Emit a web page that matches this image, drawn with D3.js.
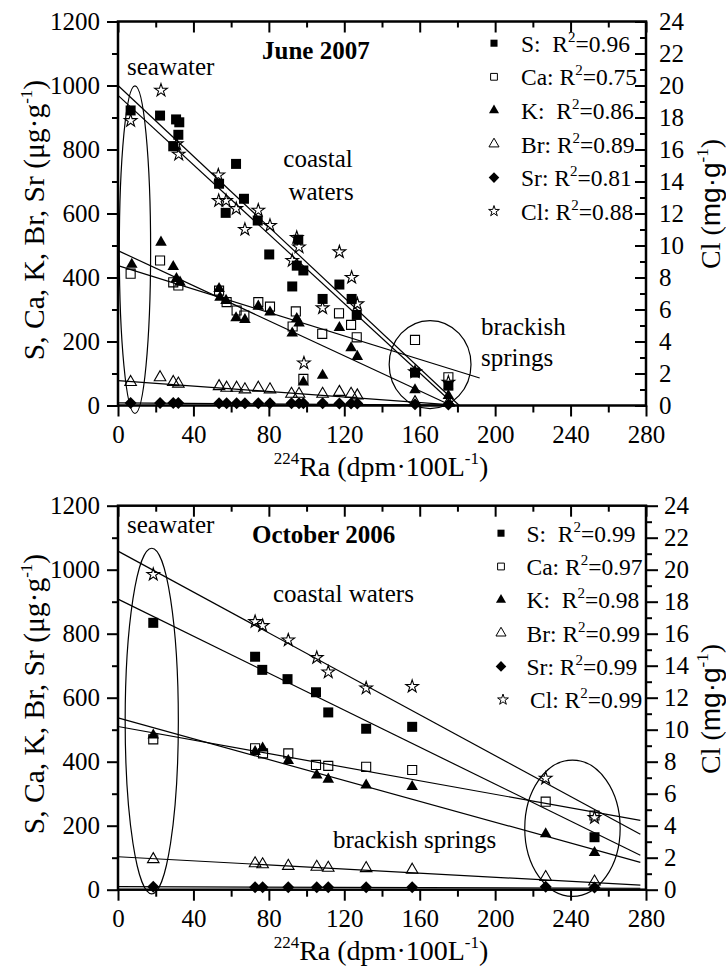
<!DOCTYPE html>
<html>
<head>
<meta charset="utf-8">
<script src="https://cdn.jsdelivr.net/npm/d3@7"></script>
<style>
  body { margin: 0; background: #fff; }
  svg text { font-family: "Liberation Serif", "Times New Roman", serif; fill: #000; }
</style>
</head>
<body>
<div class="canvas"></div>
<script>
// Data: [224Ra (dpm/100L), concentration]; S..Sr in ug/g, Cl in mg/g
const series_names = ["S", "Ca", "K", "Br", "Sr", "Cl"];

// June 2007
const jun_S = [[6.7,922],[22.3,906],[29.3,810],[30.8,894],[32,846],[32.5,885],[53.6,693],[57.1,602],[62.6,755],[66.8,646],[74.1,578],[80.2,472],[92.4,372],[94.8,437],[95.6,518],[98.3,422],[108.5,333],[117.4,378],[123.9,333],[126.6,283],[157.5,103],[175.2,62]];
const jun_Ca = [[6.7,412],[22.3,453],[29.3,385],[32,375],[53.6,359],[57.6,323],[62.9,297],[67,281],[74.4,323],[80.6,309],[92.6,247],[94.3,294],[98.3,83],[108.3,224],[117.2,288],[123.6,252],[126.6,213],[157.5,205],[175.2,88]];
const jun_K = [[7.3,441],[22.8,510],[29.3,434],[31,396],[32.9,385],[53.6,365],[54.1,338],[57.3,328],[62.6,274],[67.3,268],[74.4,310],[80.6,292],[92.4,226],[94.8,271],[96,257],[98.3,73],[108.5,94],[117.4,243],[123.6,180],[126.9,153],[157.5,49],[175.2,31]];
const jun_Br = [[6.7,73],[22.3,88],[29.3,73],[32,68],[53.6,60],[57.6,55],[62.9,55],[67.3,50],[74.4,55],[80.6,50],[92,36],[96,36],[108.5,36],[117.4,42],[123.6,36],[126.9,31],[157.5,10],[175.2,8]];
const jun_Sr = [[6.7,8],[22.3,8],[29.3,8],[32,8],[53.6,7],[57.6,7],[62.9,7],[67.3,7],[74.4,7],[80.6,7],[92,7],[96,7],[98.3,7],[108.5,7],[117.4,6],[123.6,6],[126.9,6],[157.5,4],[175.2,3]];
const jun_Cl = [[6.7,17.8],[22.8,19.7],[31.1,16.35],[32.2,15.7],[53.2,14.4],[53.4,12.8],[57.3,12.8],[62.7,12.3],[67.3,11.0],[74.4,12.2],[80.6,11.25],[92.4,9.06],[94.8,10.5],[96,9.9],[98.6,2.65],[108.5,6.1],[117.4,9.6],[123.9,8.0],[126.9,6.35],[157.5,2.1],[175.2,1.45]];
const jun_intercept = [969, 437, 484, 78, 8, 20];
const jun_slope = [-5.42, -1.83, -2.74, -0.43, -0.04, -0.1105];
const jun_fit_end = [178.5, 191.8, 175, 175, 175, 181];
const jun_r2 = ["0.96", "0.75", "0.86", "0.89", "0.81", "0.88"];
// ellipses: [cx, cy, rx, ry] in axis units
const jun_ellipses = [[9, 487, 8.3, 512], [165.5, 128, 21.7, 137.5]];

// October 2006
const oct_S = [[18.7,834],[72.7,728],[76.5,687],[89.9,658],[105,617],[111.5,554],[131.6,503],[156,509],[252.7,164]];
const oct_Ca = [[18.7,470],[72.7,442],[76.9,426],[90.3,426],[105,390],[111.5,387],[131.6,384],[156,374],[226.8,275],[252.7,232]];
const oct_K = [[18.7,483],[72.7,431],[76.7,442],[90.3,403],[105.4,358],[111.5,345],[131.6,327],[156,322],[226.8,174],[252.7,116]];
const oct_Br = [[18.7,95],[72.7,82],[76.7,79],[90.3,74],[105.4,71],[111.5,68],[131.6,67],[156,62],[226.8,39],[252.7,25]];
const oct_Sr = [[18.7,9],[72.7,8],[76.7,8],[90.3,8],[105.4,8],[111.5,8],[131.6,8],[156,8],[226.8,9],[252.7,7]];
const oct_Cl = [[18.7,19.7],[72.7,16.75],[76.7,16.5],[90.3,15.6],[105.4,14.5],[111.5,13.6],[131.6,12.6],[156,12.7],[226.8,6.96],[252.7,4.5]];
const oct_intercept = [908, 510, 537, 103, 9.5, 21.16];
const oct_slope = [-2.89, -1.06, -1.63, -0.32, -0.018, -0.0639];
const oct_fit_end = [277, 277, 277, 277, 277, 277];
const oct_r2 = ["0.99", "0.97", "0.98", "0.99", "0.99", "0.99"];
const oct_ellipses = [[17.9, 527, 14.1, 540], [241, 192, 25.3, 213]];

// Axes
const x_ticks = [0, 40, 80, 120, 160, 200, 240, 280];
const x_minor = [20, 60, 100, 140, 180, 220, 260];
const y_ticks = [0, 200, 400, 600, 800, 1000, 1200];
const y_minor = [100, 300, 500, 700, 900, 1100];
const cl_ticks = [0, 2, 4, 6, 8, 10, 12, 14, 16, 18, 20, 22, 24];
const cl_minor = [1, 3, 5, 7, 9, 11, 13, 15, 17, 19, 21, 23];

// Settings
const view_width = 726;
const view_height = 969;
const plot_left = 118;
const plot_right = 646;
const plot_height = 384;
const tick_font = 25;
const label_font = 28;
const legend_font = 23.5;
const serif_font = '"Liberation Serif", "Times New Roman", serif';
const sans_font = '"Liberation Sans", Arial, sans-serif';

const panels = [
  {
    top: 21.5, points: [jun_S, jun_Ca, jun_K, jun_Br, jun_Sr, jun_Cl],
    intercept: jun_intercept, slope: jun_slope, fit_end: jun_fit_end, r2: jun_r2, ellipses: jun_ellipses,
    title: "June 2007", title_pos: [262, 59],
    notes: [["seawater", 127, 75, "start"], ["coastal", 318, 167, "middle"], ["waters", 321, 200, "middle"],
            ["brackish", 481, 335, "start"], ["springs", 481, 366, "start"]],
    legend: { sym_x: [494, 494, 494, 494, 494, 494], text_x: [521, 521, 521, 521, 521, 521], y0: 51.7, step: 33.6 },
    right_tick_dir: -1, y_label_cy: 220, cl_label_cy: 204
  },
  {
    top: 505.7, points: [oct_S, oct_Ca, oct_K, oct_Br, oct_Sr, oct_Cl],
    intercept: oct_intercept, slope: oct_slope, fit_end: oct_fit_end, r2: oct_r2, ellipses: oct_ellipses,
    title: "October 2006", title_pos: [252, 543],
    notes: [["seawater", 127, 533, "start"], ["coastal waters", 273, 602, "start"], ["brackish springs", 333, 848, "start"]],
    legend: { sym_x: [501, 501, 501, 501, 501, 503], text_x: [526.5, 526.5, 526.5, 526.5, 526.5, 530], y0: 541.7, step: 33.3 },
    right_tick_dir: 1, y_label_cy: 694, cl_label_cy: 709
  }
];

// Symbols
const diamond = {
  draw(context, size) {
    const r = Math.sqrt(size / 2);
    context.moveTo(0, -r); context.lineTo(r, 0); context.lineTo(0, r); context.lineTo(-r, 0); context.closePath();
  }
};
const symbol_types = [d3.symbolSquare, d3.symbolSquare, d3.symbolTriangle, d3.symbolTriangle, diamond, d3.symbolStar];
const symbol_filled = [true, false, true, false, true, false];
const symbol_size = [100, 82, 58, 58, 72, 50];
const legend_size = [50, 46, 44, 44, 56, 36];

const svg = d3.select(".canvas").append("svg")
  .attr("width", view_width)
  .attr("height", view_height)
  .style("font-family", serif_font);

const xScale = d3.scaleLinear().domain([0, 280]).range([plot_left, plot_right]);

function style_axis(g) {
  g.attr("font-family", null).attr("font-size", null);
  g.select(".domain").remove();
  g.selectAll("line").attr("stroke", "#000").attr("stroke-width", 2);
  g.selectAll("text")
    .style("font-family", serif_font)
    .style("font-size", tick_font + "px")
    .attr("fill", "#000");
}

function sup_text(sel, parts) {
  // parts: [text, is_superscript, font, drop_back]
  parts.forEach(function(p) {
    const t = sel.append("tspan").text(p[0]);
    if (p[1]) t.style("font-size", "17px").attr("dy", -12);
    else if (p[3]) t.attr("dy", 12);
    if (p[2]) t.style("font-family", p[2]);
  });
}

function draw_panel(p) {
  const bottom = p.top + plot_height;
  const yScale = d3.scaleLinear().domain([0, 1200]).range([bottom, p.top]);
  const clScale = d3.scaleLinear().domain([0, 24]).range([bottom, p.top]);
  const g = svg.append("g");

  // Adding the ellipses
  g.selectAll("ellipse")
    .data(p.ellipses)
    .enter()
    .append("ellipse")
    .attr("cx", d => xScale(d[0]))
    .attr("cy", d => yScale(d[1]))
    .attr("rx", d => xScale(d[2]) - xScale(0))
    .attr("ry", d => yScale(0) - yScale(d[3]))
    .attr("fill", "none")
    .attr("stroke", "#000")
    .attr("stroke-width", 1.2);

  // Adding the fit lines
  series_names.forEach(function(name, i) {
    const ys = i === 5 ? clScale : yScale;
    const fit = [[0, p.intercept[i]], [p.fit_end[i], p.intercept[i] + p.slope[i] * p.fit_end[i]]];
    g.append("path")
      .attr("d", d3.line().x(d => xScale(d[0])).y(d => ys(d[1]))(fit))
      .attr("fill", "none")
      .attr("stroke", "#000")
      .attr("stroke-width", 1.2);
  });

  // Adding the points
  series_names.forEach(function(name, i) {
    const ys = i === 5 ? clScale : yScale;
    const sym = d3.symbol().type(symbol_types[i]).size(symbol_size[i]);
    g.selectAll("path.pt-" + name)
      .data(p.points[i])
      .enter()
      .append("path")
      .attr("class", "pt-" + name)
      .attr("d", sym)
      .attr("transform", d => `translate(${xScale(d[0])},${ys(d[1])})`)
      .attr("fill", symbol_filled[i] ? "#000" : "none")
      .attr("stroke", symbol_filled[i] ? "none" : "#000")
      .attr("stroke-width", 1.1);
  });

  // Axes
  const fmt = d3.format("d");
  g.append("g").attr("transform", `translate(${plot_left},0)`)
    .call(d3.axisLeft(yScale).tickValues(y_ticks).tickFormat(fmt).tickSize(11).tickPadding(7).tickSizeOuter(0))
    .call(style_axis);
  g.append("g").attr("transform", `translate(${plot_left},0)`)
    .call(d3.axisLeft(yScale).tickValues(y_minor).tickSize(6).tickFormat("").tickSizeOuter(0))
    .call(style_axis);
  g.append("g").attr("transform", `translate(0,${bottom})`)
    .call(d3.axisBottom(xScale).tickValues(x_ticks).tickFormat(fmt).tickSize(11).tickPadding(9).tickSizeOuter(0))
    .call(style_axis);
  g.append("g").attr("transform", `translate(0,${bottom})`)
    .call(d3.axisBottom(xScale).tickValues(x_minor).tickSize(7).tickFormat("").tickSizeOuter(0))
    .call(style_axis);
  g.append("g").attr("transform", `translate(0,${p.top})`)
    .call(d3.axisTop(xScale).tickValues(x_ticks).tickSize(-11).tickFormat("").tickSizeOuter(0))
    .call(style_axis);
  g.append("g").attr("transform", `translate(0,${p.top})`)
    .call(d3.axisTop(xScale).tickValues(x_minor).tickSize(-6).tickFormat("").tickSizeOuter(0))
    .call(style_axis);
  const rt = p.right_tick_dir > 0 ? 12 : -11;
  g.append("g").attr("transform", `translate(${plot_right},0)`)
    .call(d3.axisRight(clScale).tickValues(cl_ticks).tickFormat(fmt).tickSize(rt).tickPadding(p.right_tick_dir > 0 ? 6 : 13).tickSizeOuter(0))
    .call(style_axis);
  g.append("g").attr("transform", `translate(${plot_right},0)`)
    .call(d3.axisRight(clScale).tickValues(cl_minor).tickSize(rt > 0 ? 6 : -6).tickFormat("").tickSizeOuter(0))
    .call(style_axis);

  // Frame
  g.append("rect")
    .attr("x", plot_left).attr("y", p.top)
    .attr("width", plot_right - plot_left).attr("height", plot_height)
    .attr("fill", "none").attr("stroke", "#000").attr("stroke-width", 2.5);

  // Axis titles
  const xl = g.append("text")
    .attr("x", 381).attr("y", bottom + 70)
    .attr("text-anchor", "middle")
    .style("font-family", serif_font).style("font-size", label_font + "px");
  sup_text(xl, [["224", true], ["Ra (dpm·100L", false, null, true], ["-1", true], [")", false, null, true]]);

  const yl = g.append("text")
    .attr("transform", `translate(44,${p.y_label_cy}) rotate(-90)`)
    .attr("text-anchor", "middle")
    .style("font-family", serif_font).style("font-size", "29.5px");
  sup_text(yl, [["S, Ca, K, Br, Sr (μg·g", false], ["-1", true], [")", false, null, true]]);

  const cl = g.append("text")
    .attr("transform", `translate(720,${p.cl_label_cy}) rotate(-90)`)
    .attr("text-anchor", "middle")
    .style("font-family", serif_font).style("font-size", label_font + "px");
  sup_text(cl, [["Cl (", false], ["mg·g", false, sans_font], ["-1", true], [")", false, null, true]]);

  // Title and notes
  g.append("text")
    .attr("x", p.title_pos[0]).attr("y", p.title_pos[1])
    .style("font-family", serif_font).style("font-size", "25px").style("font-weight", "bold")
    .text(p.title);

  g.selectAll("text.note")
    .data(p.notes)
    .enter()
    .append("text")
    .attr("class", "note")
    .attr("x", d => d[1]).attr("y", d => d[2])
    .attr("text-anchor", d => d[3])
    .style("font-family", serif_font).style("font-size", "25px")
    .text(d => d[0]);

  // Legend
  series_names.forEach(function(name, i) {
    const ly = p.legend.y0 + i * p.legend.step;
    g.append("path")
      .attr("d", d3.symbol().type(symbol_types[i]).size(legend_size[i])())
      .attr("transform", `translate(${p.legend.sym_x[i]},${ly - 8.5})`)
      .attr("fill", symbol_filled[i] ? "#000" : "none")
      .attr("stroke", symbol_filled[i] ? "none" : "#000")
      .attr("stroke-width", 1);
    const t = g.append("text")
      .attr("x", p.legend.text_x[i]).attr("y", ly)
      .style("font-family", serif_font).style("font-size", legend_font + "px")
      .style("white-space", "pre");
    t.append("tspan").text(name + (name.length === 1 ? ":  " : ": ") + "R");
    t.append("tspan").style("font-size", "15px").attr("dy", -10).text("2");
    t.append("tspan").attr("dy", 10).text("=" + p.r2[i]);
  });
}

panels.forEach(draw_panel);
</script>
</body>
</html>
